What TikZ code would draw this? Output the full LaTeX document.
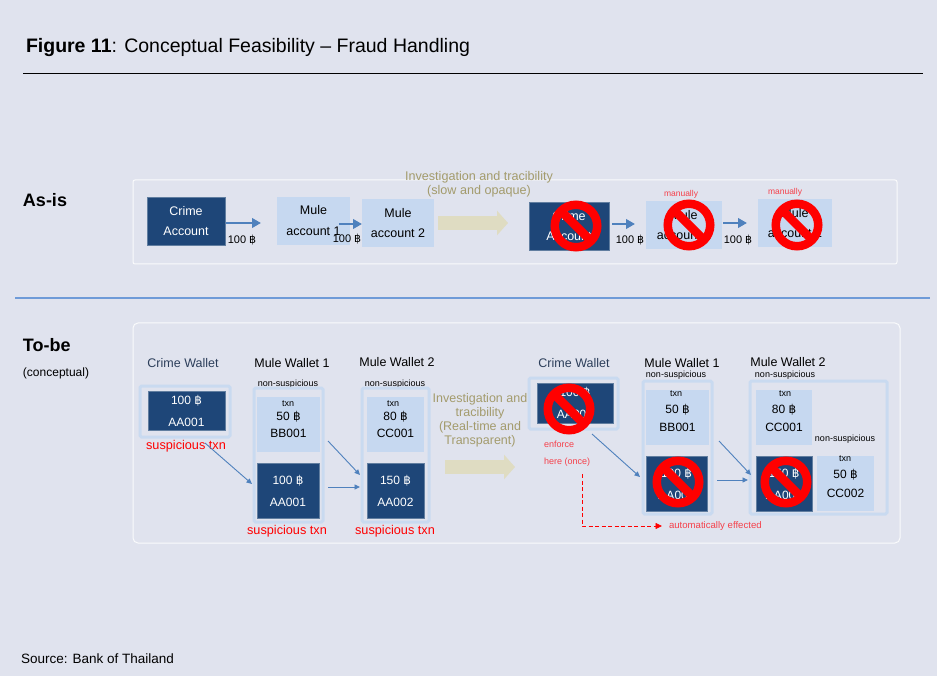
\documentclass[tikz,border=0pt]{standalone}
\usepackage{fontspec}
\setmainfont{Liberation Sans}
\newfontfamily\bahtfont{DejaVu Sans}
\usetikzlibrary{arrows.meta}
\definecolor{pagebg}{HTML}{E0E3EE}
\definecolor{darkbox}{HTML}{1E4678}
\definecolor{lightbox}{HTML}{C6D8F0}
\definecolor{wallet}{HTML}{C9DAF0}
\definecolor{flowblue}{HTML}{4F81BD}
\definecolor{gold}{HTML}{A39B6C}
\definecolor{goldfill}{HTML}{DFDCC2}
\definecolor{sepline}{HTML}{6F9BD8}
\definecolor{softred}{HTML}{F5404A}
\definecolor{navytxt}{HTML}{2C3E5A}
\newcommand{\bh}{{\bahtfont\symbol{"0E3F}}}
\newcommand{\fs}[2]{\fontsize{#1}{#2}\selectfont}
% \placebox{name}{x0}{y0}{x1}{y1}{style}{text}
\newcommand{\placebox}[7]{\node[#6,minimum width={(#4-#2)*1pt},minimum height={(#5-#3)*1pt}] (#1) at ({(#2+#4)/2},{(#3+#5)/2}) {#7};}
% \nosign{name}{x}{y}
\newcommand{\nosign}[3]{\node[nosign] (#1) at (#2,#3) {};
  \draw[red,line width=8.5pt] (#1.135) -- (#1.-45);}
\tikzset{
  x=1pt,y=-1pt,
  base/.style={inner sep=0pt,outer sep=0pt,align=center},
  darkb/.style={base,fill=darkbox,draw=darkbox!70!white,line width=.5pt,text=white},
  lightb/.style={base,fill=lightbox,text=black},
  walletb/.style={base,draw=wallet,line width=3pt,rounded corners=1.5pt},
  panel/.style={base,draw=white!85!pagebg,line width=1pt},
  nosign/.style={circle,draw=red,line width=8.5pt,minimum size=42.5pt,inner sep=0pt,outer sep=0pt},
  flow/.style={draw=flowblue,line width=2.2pt,-{Triangle[length=9pt,width=9.5pt]}},
  thin flow/.style={draw=flowblue,line width=.9pt,-{Triangle[length=5.5pt,width=5pt]}},
  bigflow/.style={draw=goldfill,line width=14pt,-{Triangle[length=11pt,width=24pt]}},
  txt/.style={base,text=black,yshift=-1pt},
  amount/.style={txt,font=\fs{11}{13}},
  head/.style={txt,font=\fs{12.5}{14}},
  small/.style={txt,font=\fs{9}{10}},
  tiny red/.style={base,yshift=-1pt,text=softred,font=\fs{8.5}{10}},
  susp/.style={base,yshift=-1pt,text=red,font=\fs{12.7}{14}},
  goldt/.style={base,yshift=-1pt,text=gold,font=\fs{12.6}{14}},
}
\begin{document}
\begin{tikzpicture}
\useasboundingbox[fill=pagebg] (0,0) rectangle (937,676);
% header
\node[base,anchor=west,font=\fs{19.5}{21}] (title) at (26,48) {\textbf{Figure 11}: Conceptual Feasibility -- Fraud Handling};
\coordinate (ruleL) at (23,73); \coordinate (ruleR) at (923,73);
\draw[black,line width=.8pt] (ruleL) -- (ruleR);
\coordinate (sepL) at (15,298); \coordinate (sepR) at (930,298);
\draw[sepline,line width=1.2pt] (sepL) -- (sepR);
\node[base,anchor=west,font=\bfseries\fs{18}{20}] (asis) at (23,200) {As-is};
\node[base,anchor=west,font=\bfseries\fs{18}{20}] (tobe) at (23,345) {To-be};
\node[base,anchor=west,font=\fs{12}{14}] (concept) at (23,373) {(conceptual)};
\node[base,anchor=west,font=\fs{13.5}{15}] (source) at (21,659) {Source: Bank of Thailand};
% panels
\placebox{panelA}{133}{180}{897}{264}{panel,rounded corners=2pt}{}
\placebox{panelB}{133}{323}{900}{543}{panel,rounded corners=5pt}{}
% As-is
\placebox{crimeA}{147}{197}{225}{245}{darkb,font=\fs{12.5}{20}}{Crime\\Account}
\placebox{muleA}{277}{197}{350}{245}{lightb,font=\fs{12.5}{21}}{Mule\\account 1}
\placebox{muleB}{362}{199}{434}{247}{lightb,font=\fs{12.5}{20}}{Mule\\account 2}
\placebox{crimeC}{529}{202}{609}{250}{darkb,font=\fs{12.5}{20}}{Crime\\Account}
\placebox{muleC}{646}{201}{722}{249}{lightb,font=\fs{12.5}{20}}{Mule\\account 1}
\placebox{muleD}{758}{199}{832}{247}{lightb,font=\fs{12.5}{20}}{Mule\\account 2}
\draw[flow,shorten <=1pt,shorten >=16pt] ([yshift=-2pt]crimeA.east) -- ([yshift=-2pt]muleA.west);
\draw[flow,shorten <=-11pt] ([yshift=-3pt]muleA.east) -- ([yshift=-1pt]muleB.west);
\draw[bigflow,shorten <=4pt,shorten >=21pt] (muleB.east) -- (muleB.east -| crimeC.west);
\draw[flow,shorten <=3pt,shorten >=11pt] ([yshift=2pt]crimeC.east) -- ([yshift=1pt]muleC.west);
\draw[flow,shorten <=1pt,shorten >=11pt] ([yshift=2pt]muleC.east) -- (muleD.west);
\node[amount] (amtA) at (242,239) {100 \bh};
\node[amount] (amtB) at (347,238) {100 \bh};
\node[amount] (amtC) at (630,239) {100 \bh};
\node[amount] (amtD) at (738,239) {100 \bh};
\node[goldt] (invA) at (479,183) {Investigation and tracibility\\(slow and opaque)};
\node[tiny red] (manA) at (681,193) {manually};
\node[tiny red] (manB) at (785,191) {manually};
\nosign{noA}{576}{226}
\nosign{noB}{689}{225}
\nosign{noC}{797}{225}
% To-be left
\node[head,text=navytxt] (tCW) at (183,362) {Crime Wallet};
\node[head] (tMW1) at (292,362) {Mule Wallet 1};
\node[head] (tMW2) at (397,361) {Mule Wallet 2};
\node[small] (nsA) at (288,383) {non-suspicious};
\node[small] (nsB) at (395,383) {non-suspicious};
\placebox{cwOut}{140}{386}{230}{437}{walletb}{}
\placebox{cwIn}{148}{391}{225}{430}{darkb,font=\fs{12}{22}}{100 \bh\\AA001}
\node[susp] (suA) at (186,445) {suspicious txn};
\placebox{m1Out}{254}{388}{323}{522}{walletb}{}
\placebox{m1L}{257}{397}{320}{452}{lightb,font=\fs{12}{17}}{50 \bh\\BB001}
\placebox{m1D}{257}{463}{319}{518}{darkb,font=\fs{12}{22}}{100 \bh\\AA001}
\node[small] (txA) at (288,403) {txn};
\node[susp] (suB) at (287,530) {suspicious txn};
\placebox{m2Out}{362}{388}{429}{522}{walletb}{}
\placebox{m2L}{367}{397}{424}{452}{lightb,font=\fs{12}{17}}{80 \bh\\CC001}
\placebox{m2D}{367}{463}{424}{518}{darkb,font=\fs{12}{22}}{150 \bh\\AA002}
\node[small] (txB) at (393,403) {txn};
\node[susp] (suC) at (395,530) {suspicious txn};
\draw[thin flow] ([xshift=20pt,yshift=-6pt]cwOut.south) -- ([xshift=-5pt,yshift=6.5pt]m1D.west);
\draw[thin flow] ([xshift=8pt,yshift=11pt]m1L.south east) -- ([xshift=-7pt,yshift=15.5pt]m2D.west);
\draw[thin flow] ([xshift=9pt,yshift=3.5pt]m1D.east) -- ([xshift=-7pt,yshift=3.5pt]m2D.west);
% middle
\node[goldt,font=\fs{12.5}{14}] (invB) at (480,419) {Investigation and\\tracibility\\(Real-time and\\Transparent)};
\coordinate (gA) at (445,467); \coordinate (gB) at (515,467);
\draw[bigflow] (gA) -- (gB);
% To-be right
\node[head,text=navytxt] (tCWb) at (574,362) {Crime Wallet};
\node[head] (tMW1b) at (682,362) {Mule Wallet 1};
\node[head] (tMW2b) at (788,361) {Mule Wallet 2};
\node[small] (nsC) at (676,374) {non-suspicious};
\node[small] (nsD) at (785,374) {non-suspicious};
\node[small] (nsE) at (845,438) {non-suspicious};
\placebox{cbOut}{529}{378}{618}{429}{walletb}{}
\placebox{cbIn}{537}{383}{613}{423}{darkb,font=\fs{12}{22}}{100 \bh\\AA001}
\node[base,anchor=west,align=left,text=softred,font=\fs{9}{17}] (enf) at (544,453.5) {enforce\\here (once)};
\placebox{n1Out}{643}{381}{712}{514}{walletb}{}
\placebox{n1L}{646}{390}{709}{445}{lightb,font=\fs{12}{18}}{50 \bh\\BB001}
\placebox{n1D}{646}{456}{707}{511}{darkb,font=\fs{12}{22}}{100 \bh\\AA001}
\node[small] (txC) at (676,393) {txn};
\placebox{n2Out}{750}{381}{887}{514}{walletb}{}
\placebox{n2L}{756}{390}{812}{445}{lightb,font=\fs{12}{18}}{80 \bh\\CC001}
\placebox{n2D}{756}{456}{812}{511}{darkb,font=\fs{12}{22}}{150 \bh\\AA002}
\placebox{n2M}{817}{456}{874}{511}{lightb,font=\fs{12}{19}}{50 \bh\\CC002}
\node[small] (txD) at (785,393) {txn};
\node[small] (txE) at (845,458) {txn};
\draw[thin flow] ([xshift=17pt,yshift=-11pt]cbIn.south) -- ([xshift=-6pt,yshift=6.5pt]n1D.west);
\draw[thin flow] ([xshift=10pt,yshift=4pt]n1L.south east) -- ([xshift=-5pt,yshift=8.5pt]n2D.west);
\draw[thin flow] ([xshift=10pt,yshift=3.5pt]n1D.east) -- ([xshift=-8pt,yshift=3.5pt]n2D.west);
\node[base,anchor=west,text=softred,font=\fs{9.6}{11}] (auto) at (669,526) {automatically effected};
\coordinate (dashS) at (582,474); \coordinate (dashC) at (582,526);
\draw[red,line width=.8pt,dash pattern=on 4pt off 2.5pt,-{Triangle[length=6.5pt,width=6pt]}] (dashS) -- (dashC) -- ([xshift=-7pt]auto.west);
\nosign{noD}{569}{409}
\nosign{noE}{678}{482}
\nosign{noF}{786}{482}
\end{tikzpicture}
\end{document}
